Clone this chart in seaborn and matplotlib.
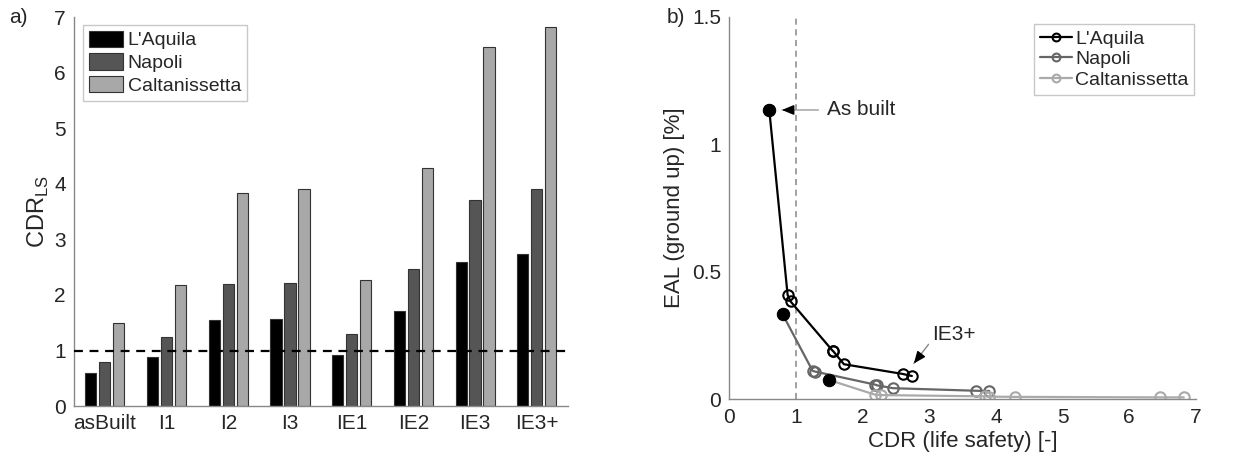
import numpy as np
import pandas as pd
import matplotlib
matplotlib.use("Agg")
import matplotlib.pyplot as plt
import seaborn as sns

# ---------------- data ----------------
categories = ["asBuilt", "I1", "I2", "I3", "IE1", "IE2", "IE3", "IE3+"]
cities = ["L'Aquila", "Napoli", "Caltanissetta"]

cdr_laquila = [0.60, 0.875, 1.55, 1.56, 0.92, 1.72, 2.60, 2.74]
cdr_napoli = [0.80, 1.25, 2.19, 2.22, 1.29, 2.46, 3.70, 3.90]
cdr_caltanissetta = [1.49, 2.18, 3.84, 3.90, 2.27, 4.29, 6.47, 6.82]

eal_laquila = [1.134, 0.409, 0.190, 0.188, 0.383, 0.137, 0.099, 0.091]
eal_napoli = [0.333, 0.111, 0.057, 0.054, 0.108, 0.043, 0.033, 0.032]
eal_caltanissetta = [0.076, 0.018, 0.011, 0.010, 0.016, 0.009, 0.007, 0.007]

bar_colors = ["#000000", "#555555", "#a8a8a8"]
line_colors = ["#000000", "#666666", "#aaaaaa"]

# ---------------- style ----------------
sns.set_theme(style="white")
plt.rcParams["font.family"] = ["Liberation Sans", "DejaVu Sans"]
plt.rcParams["axes.edgecolor"] = "#888888"
plt.rcParams["axes.linewidth"] = 1.0

fig = plt.figure(figsize=(12.34, 4.62), dpi=100)
ax1 = fig.add_axes([0.060, 0.121, 0.400, 0.842])
ax2 = fig.add_axes([0.591, 0.136, 0.378, 0.828])

TICK_FS = 15
LEG_FS = 14
LAB_FS = 16

# ---------------- panel a ----------------
cdr_all = [cdr_laquila, cdr_napoli, cdr_caltanissetta]
df_bar = pd.DataFrame({
    "category": np.tile(categories, 3),
    "city": np.repeat(cities, len(categories)),
    "cdr": np.concatenate(cdr_all),
})
sns.barplot(data=df_bar, x="category", y="cdr", hue="city", order=categories,
            hue_order=cities, palette=bar_colors, width=0.68, gap=0.2,
            edgecolor="#333333", linewidth=0.8, ax=ax1, errorbar=None,
            saturation=1)
ax1.set_xlim(-0.5, 7.5)
ax1.set_ylim(0, 7)
ax1.set_yticks(range(0, 8))
ax1.axhline(1, color="black", ls=(0, (4, 3)), lw=1.6, zorder=5)
ax1.set_xlabel("")
ax1.set_ylabel("CDR$_{\\mathregular{LS}}$", fontsize=17, labelpad=2)
ax1.tick_params(axis="both", labelsize=TICK_FS, direction="in", length=3,
                color="#888888", pad=6)
ax1.tick_params(axis="x", length=0)
sns.despine(ax=ax1)
leg1 = ax1.legend(loc="upper left", bbox_to_anchor=(0.018, 0.98), fontsize=LEG_FS,
                  frameon=True, fancybox=False, edgecolor="#bbbbbb",
                  handlelength=1.75, handleheight=0.9, handletextpad=0.25,
                  labelspacing=0.2, borderpad=0.3, borderaxespad=0)
leg1.get_frame().set_linewidth(1.0)

# ---------------- panel b ----------------
eal_all = [eal_laquila, eal_napoli, eal_caltanissetta]
for city, cdr, eal, col in zip(cities, cdr_all, eal_all, line_colors):
    d = pd.DataFrame({"cdr": cdr, "eal": eal, "cat": categories}).sort_values("cdr")
    sns.lineplot(data=d, x="cdr", y="eal", sort=False, color=col, lw=1.6,
                 marker="o", markersize=7.5, markerfacecolor="none",
                 markeredgecolor=col, markeredgewidth=1.5, ax=ax2, label=city)
    asb = d[d["cat"] == "asBuilt"]
    sns.scatterplot(data=asb, x="cdr", y="eal", color="black", s=80,
                    edgecolor="black", ax=ax2, zorder=5, legend=False)

ax2.axvline(1, color="#888888", ls=(0, (4, 3)), lw=1.1, zorder=0)
ax2.set_xlim(0, 7)
ax2.set_ylim(0, 1.5)
ax2.set_xticks(range(0, 8))
ax2.set_yticks([0, 0.5, 1, 1.5])
ax2.set_yticklabels(["0", "0.5", "1", "1.5"])
ax2.set_xlabel("CDR (life safety) [-]", fontsize=LAB_FS, labelpad=3)
ax2.set_ylabel("EAL (ground up) [%]", fontsize=LAB_FS, labelpad=5)
ax2.tick_params(axis="both", labelsize=TICK_FS, direction="in", length=3,
                color="#888888", pad=6)
sns.despine(ax=ax2)
leg2 = ax2.legend(loc="upper right", bbox_to_anchor=(0.997, 0.98), fontsize=LEG_FS,
                  frameon=True, fancybox=False, edgecolor="#bbbbbb",
                  handlelength=1.65, handletextpad=0.15, labelspacing=0.15,
                  borderpad=0.3, borderaxespad=0, markerscale=0.75)
leg2.get_frame().set_linewidth(1.0)

# annotations: grey shaft, black head
head = dict(arrowstyle="-|>,head_length=0.6,head_width=0.25", color="black",
            lw=1.0, shrinkA=0, shrinkB=0)
ax2.annotate("As built", xy=(0.79, 1.134), xytext=(1.47, 1.134),
             fontsize=LEG_FS + 1, va="center", ha="left",
             arrowprops=dict(arrowstyle="-", color="#999999", lw=1.0,
                             shrinkA=4, shrinkB=0))
ax2.annotate("", xy=(0.79, 1.134), xytext=(0.93, 1.134), arrowprops=head)
ax2.annotate("", xy=(2.77, 0.14), xytext=(2.99, 0.215),
             arrowprops=dict(arrowstyle="-", color="#888888", lw=1.0,
                             shrinkA=0, shrinkB=0))
ax2.annotate("", xy=(2.77, 0.14), xytext=(2.85, 0.167), arrowprops=head)
ax2.text(3.04, 0.255, "IE3+", fontsize=LEG_FS + 1, va="center", ha="left")

# panel labels
fig.text(0.007, 0.962, "a)", fontsize=15, va="center", ha="left")
fig.text(0.540, 0.962, "b)", fontsize=15, va="center", ha="left")

fig.savefig("out.png", dpi=100)
